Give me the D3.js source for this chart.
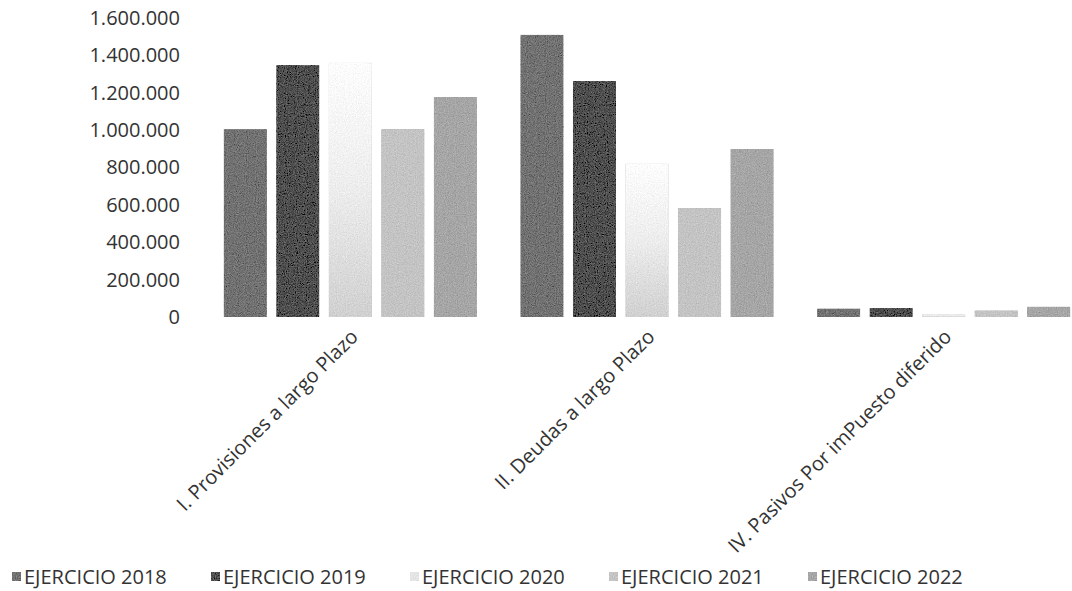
<!DOCTYPE html>
<html>
<head>
<meta charset="utf-8">
<script src="https://cdn.jsdelivr.net/npm/d3@7"></script>
<style>
  html, body { margin: 0; padding: 0; background: #fff; }
  svg { display: block; font-family: "Open Sans", "DejaVu Sans", sans-serif; }
</style>
</head>
<body>
<svg id="chart" width="1072" height="591"></svg>
<script>
// ---- data ----
const categories = ["I. Provisiones a largo Plazo", "II. Deudas a largo Plazo", "IV. Pasivos Por imPuesto diferido"];
const seriesNames = ["EJERCICIO 2018", "EJERCICIO 2019", "EJERCICIO 2020", "EJERCICIO 2021", "EJERCICIO 2022"];
const values2018 = [1005000, 1510000, 45000];
const values2019 = [1348000, 1263000, 48000];
const values2020 = [1360000, 820000, 15000];
const values2021 = [1005000, 583000, 35000];
const values2022 = [1177000, 899000, 55000];
const yTicks = [0, 200000, 400000, 600000, 800000, 1000000, 1200000, 1400000, 1600000];
const seriesColors = ["#727272", "#4f4f4f", "url(#fade2020)", "#c4c4c4", "#a6a6a6"];

const seriesValues = [values2018, values2019, values2020, values2021, values2022];

const svg = d3.select("#chart");
const defs = svg.append("defs");

// grain texture filter to mimic the scanned look
const f = defs.append("filter").attr("id", "grain")
  .attr("x", 0).attr("y", 0).attr("width", 1).attr("height", 1);
f.append("feTurbulence").attr("type", "fractalNoise").attr("baseFrequency", 0.9)
  .attr("numOctaves", 2).attr("seed", 3).attr("result", "noise");
f.append("feColorMatrix").attr("in", "noise").attr("type", "matrix")
  .attr("values", "0.33 0.33 0.33 0 0  0.33 0.33 0.33 0 0  0.33 0.33 0.33 0 0  0 0 0 0 1")
  .attr("result", "gnoise");
f.append("feComposite").attr("in", "SourceGraphic").attr("in2", "gnoise")
  .attr("operator", "arithmetic").attr("k1", 0).attr("k2", 1).attr("k3", 0.5).attr("k4", -0.25)
  .attr("result", "mix");
f.append("feComposite").attr("in", "mix").attr("in2", "SourceGraphic").attr("operator", "in");

const g20 = defs.append("linearGradient").attr("id", "fade2020")
  .attr("x1", 0).attr("y1", 0).attr("x2", 0).attr("y2", 1);
g20.append("stop").attr("offset", "0%").attr("stop-color", "#fdfdfd");
g20.append("stop").attr("offset", "50%").attr("stop-color", "#ededed");
g20.append("stop").attr("offset", "100%").attr("stop-color", "#d0d0d0");

// ---- scales ----
const y = d3.scaleLinear().domain([0, 1600000]).range([317, 18]);
const x0 = d3.scaleBand().domain(categories).range([202, 1092]).paddingInner(0).paddingOuter(0);
const x1 = d3.scaleBand().domain(seriesNames).range([21.75, x0.bandwidth() - 21.75]).paddingInner(0.18).paddingOuter(0);

const fmt = v => d3.format(",")(v).replace(/,/g, ".");

// ---- y axis (labels only) ----
const yAxis = d3.axisLeft(y).tickValues(yTicks).tickFormat(fmt).tickSize(0).tickPadding(0);
const yg = svg.append("g").attr("transform", "translate(180,0)").call(yAxis);
yg.select(".domain").remove();
yg.selectAll("text").attr("font-size", 20).attr("fill", "#333")
  .attr("font-family", "Open Sans, sans-serif");

// ---- bars ----
const groups = svg.append("g").selectAll("g.cat").data(categories).join("g")
  .attr("class", "cat").attr("transform", d => `translate(${x0(d)},0)`);

groups.selectAll("rect").data((c, ci) => seriesNames.map((s, si) => ({ s, si, v: seriesValues[si][ci] })))
  .join("rect")
  .attr("x", d => x1(d.s))
  .attr("width", x1.bandwidth())
  .attr("y", d => y(d.v))
  .attr("height", d => y(0) - y(d.v))
  .attr("fill", d => seriesColors[d.si])
  .attr("filter", "url(#grain)");

// ---- x axis labels (rotated) ----
const xAxis = d3.axisBottom(x0).tickSize(0).tickPadding(0);
const xg = svg.append("g").attr("transform", "translate(0,338)").call(xAxis);
xg.select(".domain").remove();
xg.selectAll(".tick text")
  .attr("font-size", 20).attr("fill", "#333")
  .attr("font-family", "Open Sans, sans-serif")
  .attr("text-anchor", "end")
  .attr("dy", 0).attr("y", 0)
  .attr("transform", "translate(9,0) rotate(-45)");

// ---- legend ----
const legend = svg.append("g").selectAll("g.leg").data(seriesNames).join("g")
  .attr("class", "leg").attr("transform", (d, i) => `translate(${12 + i * 199},584)`);
legend.append("rect").attr("x", 0).attr("y", -12).attr("width", 9).attr("height", 9)
  .attr("fill", (d, i) => i === 2 ? "#e4e4e4" : seriesColors[i]).attr("filter", "url(#grain)");
legend.append("text").attr("x", 12).attr("y", 0).attr("font-size", 20).attr("fill", "#333")
  .text(d => d);
</script>
</body>
</html>
